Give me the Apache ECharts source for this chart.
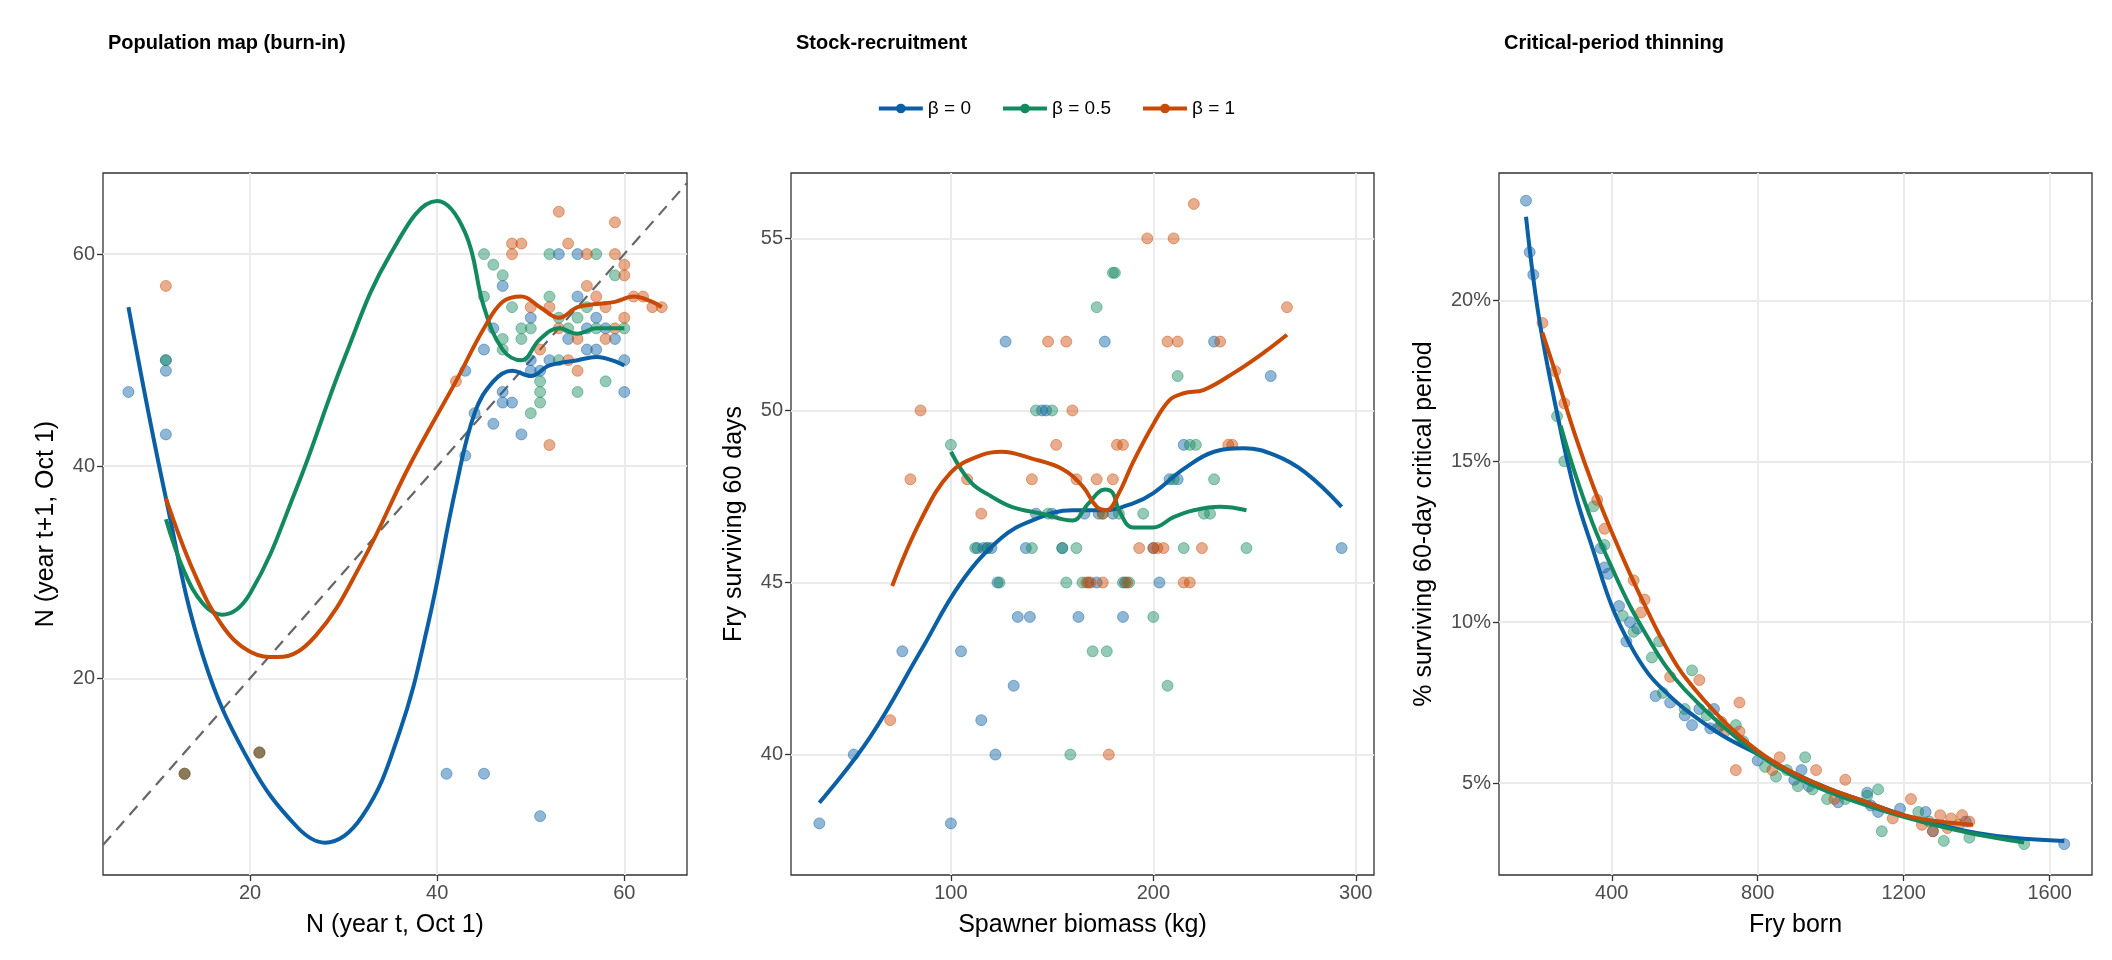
<!DOCTYPE html>
<html><head><meta charset="utf-8">
<script src="https://cdn.jsdelivr.net/npm/echarts@6/dist/echarts.min.js"></script>
<style>html,body{margin:0;padding:0;background:#fff}#c{width:2112px;height:960px}</style>
</head><body><div id="c"></div>
<script>
// ---- data ----
var names = ['β = 0', 'β = 0.5', 'β = 1'];
var colors = ['#0b5fa5', '#138a5e', '#c94a05'];

// panel 1 : population map
var map_b0 = [[7,47],[11,50],[11,49],[11,43],[13,11],[21,13],[41,11],[45,11],[51,7],[43,41],[43,49],[44,45],[45,51],[46,44],[46,53],[47,46],[47,47],[47,57],[48,46],[49,43],[50,49],[50,50],[50,54],[51,49],[52,50],[53,60],[54,52],[55,56],[55,60],[56,51],[57,51],[58,53],[59,52],[60,47],[60,50],[56,53],[57,54]];
var map_b05 = [[11,50],[13,11],[21,13],[45,56],[45,60],[46,59],[47,58],[47,52],[47,51],[48,55],[49,52],[50,53],[51,46],[51,47],[51,48],[52,60],[53,50],[53,54],[54,53],[55,47],[55,54],[56,55],[57,60],[58,48],[59,58],[60,53],[52,56],[49,53],[50,45],[57,53]];
var map_b1 = [[11,57],[13,11],[21,13],[42,48],[48,60],[48,61],[49,61],[50,55],[51,51],[52,42],[52,55],[53,64],[54,61],[55,49],[55,52],[56,57],[56,60],[57,56],[58,52],[59,63],[59,60],[60,59],[60,58],[60,54],[61,56],[62,56],[63,55],[64,55],[53,53],[54,50],[58,55],[59,53]];
var mapFit_b0 = [[7,55],[11,37],[15,22],[20,12],[25,6],[28,4.5],[32,7],[36,15],[39,25],[42,38],[44,45],[46,48],[48,49],[50,48.5],[52,49.5],[55,50],[57,50.3],[60,49.5]];
var mapFit_b05 = [[11,35],[13,30],[15,27],[17,26],[20,28],[25,38],[30,50],[35,60],[40,65],[43,62],[45,55],[47,51],[49,50],[51,52],[53,53],[55,52.5],[57,53],[60,53]];
var mapFit_b1 = [[11,37],[14,30],[17,25],[20,22.5],[23,22],[27,24],[32,31],[37,40],[42,48],[45,53],[47,55.5],[49,56],[51,55],[53,54],[55,55],[57,55.3],[59,55.5],[61,56],[63,55.5],[64,55]];
var mapTicksX = [20, 40, 60];
var mapTicksY = [20, 40, 60];

// panel 2 : stock-recruitment
var sr_b0 = [[35,38],[52,40],[76,43],[100,38],[105,43],[113,46],[115,41],[116,46],[118,46],[120,46],[122,40],[123,45],[127,52],[131,42],[133,44],[137,46],[139,44],[142,47],[145,50],[147,50],[150,47],[155,46],[163,44],[166,47],[168,45],[172,45],[176,52],[180,47],[185,44],[186,45],[200,46],[208,48],[212,48],[215,49],[230,52],[258,51],[293,46],[173,47],[203,45]];
var sr_b05 = [[100,49],[112,46],[118,46],[124,45],[140,46],[142,50],[148,47],[150,50],[155,46],[157,45],[159,40],[162,46],[165,45],[170,43],[172,53],[177,43],[180,54],[181,54],[183,47],[185,45],[188,45],[200,44],[207,42],[210,48],[212,51],[215,46],[218,49],[221,49],[225,47],[228,47],[230,48],[246,46],[175,47],[195,47]];
var sr_b1 = [[70,41],[80,48],[85,50],[108,48],[115,47],[140,48],[148,52],[152,49],[157,52],[160,50],[162,48],[167,45],[169,45],[172,48],[175,45],[178,40],[180,48],[182,49],[185,49],[187,45],[197,55],[200,46],[202,46],[205,46],[207,52],[210,55],[212,52],[215,45],[218,45],[220,56],[224,46],[233,52],[237,49],[239,49],[266,53],[193,46],[175,47]];
var srFit_b0 = [[35,38.6],[60,40.5],[85,43],[105,45],[125,46.3],[140,46.8],[160,47.1],[175,47.1],[190,47.3],[200,47.6],[215,48.3],[230,48.8],[245,48.9],[260,48.7],[275,48.2],[293,47.2]];
var srFit_b05 = [[100,48.8],[110,47.9],[120,47.5],[130,47.2],[145,47],[160,46.8],[168,47.3],[176,47.7],[180,47.6],[183,47.1],[190,46.6],[200,46.6],[210,46.9],[220,47.1],[233,47.2],[246,47.1]];
var srFit_b1 = [[71,44.9],[85,46.8],[100,48.2],[115,48.7],[125,48.8],[140,48.6],[155,48.3],[165,47.8],[172,47.2],[177,47.1],[183,47.6],[190,48.5],[200,49.6],[208,50.3],[215,50.5],[225,50.6],[240,51.1],[255,51.7],[266,52.2]];
var srTicksX = [100, 200, 300];
var srTicksY = [40, 45, 50, 55];

// panel 3 : critical-period thinning (percent)
var cp_b0 = [[165,23.1],[175,21.5],[185,20.8],[370,12.3],[380,11.7],[390,11.5],[420,10.5],[440,9.4],[450,10],[470,9.8],[520,7.7],[560,7.5],[600,7.1],[620,6.8],[640,7.3],[670,6.7],[680,7.3],[690,6.7],[800,5.7],[900,5.1],[920,5.4],[940,4.9],[1020,4.4],[1100,4.7],[1110,4.3],[1130,4.1],[1190,4.2],[1260,4.1],[1280,3.5],[1370,3.8],[1640,3.1]];
var cp_b05 = [[250,16.4],[270,15],[350,13.6],[380,12.4],[430,10.2],[460,9.7],[510,8.9],[530,9.4],[540,7.8],[600,7.3],[620,8.5],[660,7.1],[700,6.8],[740,6.8],[760,6.3],[820,5.5],[850,5.2],[880,5.4],[910,4.9],[930,5.8],[950,4.8],[990,4.5],[1040,4.5],[1100,4.6],[1130,4.8],[1140,3.5],[1240,4.1],[1270,3.8],[1310,3.2],[1380,3.3],[1530,3.1]];
var cp_b1 = [[210,19.3],[245,17.8],[270,16.8],[360,13.8],[380,12.9],[460,11.3],[480,10.3],[490,10.7],[560,8.3],[640,8.2],[700,6.9],[710,6.6],[740,5.4],[750,6.6],[750,7.5],[840,5.4],[860,5.8],[960,5.4],[1010,4.5],[1040,5.1],[1170,3.9],[1220,4.5],[1250,3.7],[1280,3.5],[1300,4],[1320,3.6],[1330,3.9],[1350,3.7],[1360,4],[1380,3.8]];
var cpFit_b0 = [[165,22.6],[200,19.5],[250,16.5],[300,14],[350,12.2],[400,10.5],[450,9.3],[500,8.4],[550,7.8],[600,7.3],[700,6.5],[800,5.9],[900,5.3],[1000,4.8],[1100,4.4],[1200,4.0],[1300,3.7],[1400,3.45],[1500,3.3],[1640,3.2]];
var cpFit_b05 = [[260,16.1],[300,14.6],[350,13.0],[400,11.7],[450,10.5],[500,9.5],[550,8.6],[600,7.9],[700,6.8],[800,5.9],[900,5.2],[1000,4.7],[1100,4.3],[1200,3.95],[1300,3.65],[1400,3.4],[1530,3.15]];
var cpFit_b1 = [[210,19.0],[250,17.6],[300,15.8],[350,14.2],[400,12.8],[450,11.5],[500,10.3],[550,9.2],[600,8.3],[700,7.0],[800,6.0],[900,5.3],[1000,4.8],[1100,4.4],[1200,4.0],[1300,3.8],[1390,3.7]];
var cpTicksX = [400, 800, 1200, 1600];
var cpTicksY = [5, 10, 15, 20];

// ---- chart ----
var chart = echarts.init(document.getElementById('c'));
var FONT = 'Liberation Sans, Arial, sans-serif';

function axis(idx, min, max, ticks, name, gap, suffix) {
    return {
        type: 'value', gridIndex: idx, min: min, max: max,
        name: name, nameLocation: 'middle', nameGap: gap,
        nameTextStyle: {color: '#000', fontSize: 25, fontFamily: FONT},
        axisLine: {show: false},
        axisTick: {show: true, length: 6, customValues: ticks, lineStyle: {color: '#333', width: 1.3}},
        axisLabel: {color: '#4d4d4d', fontSize: 20, fontFamily: FONT, customValues: ticks, margin: 8,
            formatter: function (v) { return String(v) + (suffix || ''); }},
        splitLine: {show: true, lineStyle: {color: '#ebebeb', width: 2}}
    };
}
function pts(name, data, k, gi) {
    return {name: name + ' pts', type: 'scatter', xAxisIndex: gi, yAxisIndex: gi, data: data,
        symbolSize: 11, itemStyle: {color: colors[k], opacity: 0.45, borderColor: colors[k], borderWidth: 1}, z: 2};
}
function fit(k, data, gi) {
    return {name: names[k], type: 'line', xAxisIndex: gi, yAxisIndex: gi, data: data, smooth: 0.4,
        symbol: 'circle', symbolSize: 10, showSymbol: false, itemStyle: {color: colors[k]},
        lineStyle: {color: colors[k], width: 4}, z: 3};
}

var grids = [
    {left: 103, width: 584, top: 173, bottom: 85},
    {left: 791, width: 583, top: 173, bottom: 85},
    {left: 1499, width: 593, top: 173, bottom: 85}
];
grids.forEach(function (g) { g.show = true; g.borderColor = '#333'; g.borderWidth = 1.3; g.backgroundColor = '#fff'; });

var option = {
    backgroundColor: '#fff',
    animation: false,
    title: [
        {text: 'Population map (burn-in)', left: 103, top: 28},
        {text: 'Stock-recruitment', left: 791, top: 28},
        {text: 'Critical-period thinning', left: 1499, top: 28}
    ].map(function (t) { t.textStyle = {fontSize: 20, fontWeight: 'bold', color: '#000', fontFamily: FONT}; return t; }),
    legend: {
        data: names, left: 'center', top: 94, itemWidth: 44, itemHeight: 12, itemGap: 30,
        lineStyle: {width: 4},
        textStyle: {fontSize: 19, color: '#000', fontFamily: FONT}
    },
    grid: grids,
    xAxis: [
        axis(0, 4.28, 66.7, mapTicksX, 'N (year t, Oct 1)', 38),
        axis(1, 21, 309, srTicksX, 'Spawner biomass (kg)', 38),
        axis(2, 91, 1716, cpTicksX, 'Fry born', 38)
    ],
    yAxis: [
        axis(0, 1.45, 67.65, mapTicksY, 'N (year t+1, Oct 1)', 44),
        axis(1, 36.5, 56.9, srTicksY, 'Fry surviving 60 days', 44),
        axis(2, 2.14, 23.96, cpTicksY, '% surviving 60-day critical period', 62, '%')
    ],
    series: [
        {name: 'identity', type: 'line', xAxisIndex: 0, yAxisIndex: 0, data: [[4.28,4.28],[66.7,66.7]],
            showSymbol: false, lineStyle: {color: '#666', width: 2.2, type: [12, 8]}, z: 1},
        pts('b0', map_b0, 0, 0), pts('b05', map_b05, 1, 0), pts('b1', map_b1, 2, 0),
        fit(0, mapFit_b0, 0), fit(1, mapFit_b05, 0), fit(2, mapFit_b1, 0),
        pts('b0', sr_b0, 0, 1), pts('b05', sr_b05, 1, 1), pts('b1', sr_b1, 2, 1),
        fit(0, srFit_b0, 1), fit(1, srFit_b05, 1), fit(2, srFit_b1, 1),
        pts('b0', cp_b0, 0, 2), pts('b05', cp_b05, 1, 2), pts('b1', cp_b1, 2, 2),
        fit(0, cpFit_b0, 2), fit(1, cpFit_b05, 2), fit(2, cpFit_b1, 2)
    ]
};
chart.setOption(option);
</script>
</body></html>
